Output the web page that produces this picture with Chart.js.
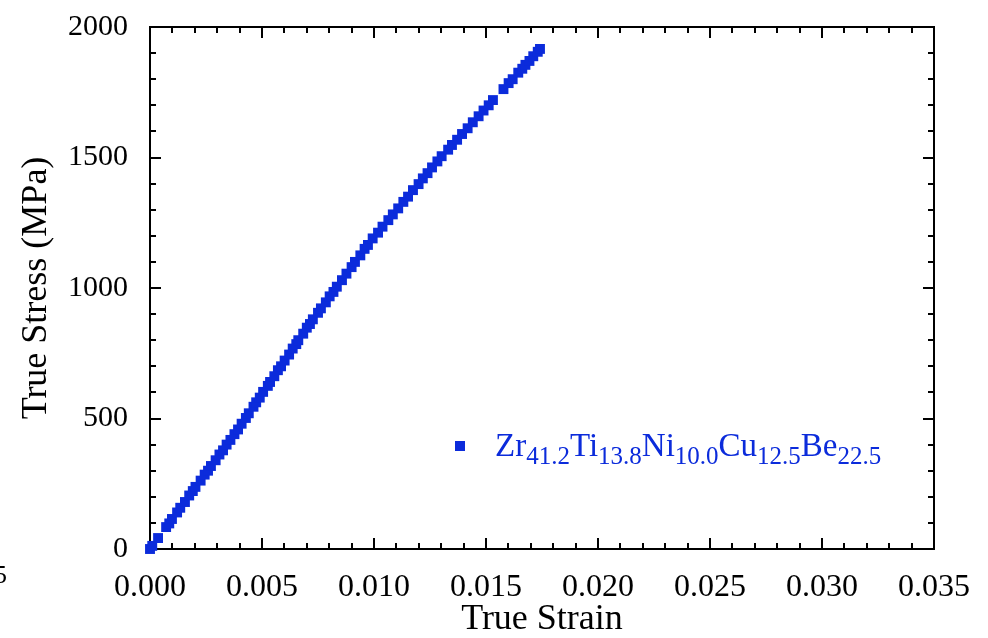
<!DOCTYPE html>
<html><head><meta charset="utf-8">
<script src="https://cdn.jsdelivr.net/npm/chart.js@4"></script>
<style>html,body{margin:0;padding:0;background:#fff}#wrap{width:988px;height:638px}</style>
</head><body><div id="wrap"><canvas id="c" width="988" height="638"></canvas></div>
<script>
// ---- data ----
const strain = [
  0, 0.00010, 0.00036, 0.00072, 0.00086, 0.00098, 0.00121, 0.00135, 0.00156, 0.00175, 0.00191, 0.00203, 0.00226, 0.00244, 0.00259, 0.00272, 0.00293, 0.00310, 0.00326, 0.00342, 0.00359, 0.00377,
  0.00393, 0.00409, 0.00428, 0.00441, 0.00462, 0.00474, 0.00490, 0.00505, 0.00526, 0.00536, 0.00555, 0.00571, 0.00585, 0.00601, 0.00621, 0.00637, 0.00653, 0.00662, 0.00684, 0.00700,
  0.00714, 0.00727, 0.00750, 0.00763, 0.00785, 0.00802, 0.00819, 0.00834, 0.00857, 0.00877, 0.00900, 0.00915, 0.00939, 0.00958, 0.00973,
  0.00994, 0.01018, 0.01038, 0.01064, 0.01084, 0.01108, 0.01131, 0.01152, 0.01174, 0.01199, 0.01218, 0.01239, 0.01259, 0.01283,
  0.01302, 0.01331, 0.01348, 0.01371, 0.01393, 0.01418, 0.01441, 0.01467, 0.01489, 0.01512, 0.01531, 0.01578, 0.01601, 0.01619, 0.01644, 0.01662, 0.01676, 0.01694, 0.01711, 0.01731, 0.01741
];
const stress = [
  0, 12, 42, 84, 98, 115, 140, 158, 180, 205, 222, 238, 262, 285, 300, 318, 340, 362, 378, 400, 418, 440,
  458, 480, 502, 520, 545, 562, 580, 602, 625, 640, 662, 685, 700, 722, 745, 768, 785, 800, 825, 848,
  862, 880, 905, 922, 945, 968, 985, 1005, 1030, 1055, 1080, 1100, 1125, 1150, 1165,
  1190, 1212, 1235, 1260, 1282, 1305, 1330, 1350, 1375, 1398, 1420, 1440, 1462, 1485,
  1505, 1530, 1548, 1568, 1590, 1612, 1635, 1658, 1680, 1700, 1720, 1762, 1785, 1800, 1825, 1840, 1855, 1870, 1888, 1905, 1916
];
const seriesLabelParts = [['Zr','41.2'],['Ti','13.8'],['Ni','10.0'],['Cu','12.5'],['Be','22.5']];
const xTickLabels = ['0.000','0.005','0.010','0.015','0.020','0.025','0.030','0.035'];
const yTickLabels = ['0','500','1000','1500','2000'];
const xTitle = 'True Strain';
const yTitle = 'True Stress (MPa)';
const strayText = '5';

const BLUE = '#0b2bdb';
const SERIF = '"Liberation Serif", "Times New Roman", serif';

const points = strain.map((s, i) => ({x: s, y: stress[i]}));

const framePlugin = {
  id: 'frame',
  beforeDatasetsDraw(chart) {
    const {ctx, chartArea: a, scales: {x, y}} = chart;
    ctx.save();
    ctx.strokeStyle = '#000';
    ctx.lineWidth = 2;
    ctx.strokeRect(a.left, a.top, a.right - a.left, a.bottom - a.top);
    ctx.beginPath();
    for (let k = 0; k <= 35; k++) {
      const v = k * 0.001;
      const px = Math.round(x.getPixelForValue(v));
      const len = (k % 5 === 0) ? 11 : 6;
      ctx.moveTo(px, a.bottom); ctx.lineTo(px, a.bottom - len);
      ctx.moveTo(px, a.top); ctx.lineTo(px, a.top + len);
    }
    for (let k = 0; k <= 20; k++) {
      const v = k * 100;
      const py = Math.round(y.getPixelForValue(v));
      const len = (k % 5 === 0) ? 11 : 6;
      ctx.moveTo(a.left, py); ctx.lineTo(a.left + len, py);
      ctx.moveTo(a.right, py); ctx.lineTo(a.right - len, py);
    }
    ctx.stroke();
    ctx.restore();
  },
  afterDraw(chart) {
    const {ctx} = chart;
    ctx.save();
    // legend
    ctx.fillStyle = BLUE;
    ctx.fillRect(455, 441, 10, 10);
    let cx = 495;
    const base = 456;
    ctx.textBaseline = 'alphabetic';
    ctx.textAlign = 'left';
    for (const [main, sub] of seriesLabelParts) {
      ctx.font = '33px ' + SERIF;
      ctx.fillText(main, cx, base);
      cx += ctx.measureText(main).width;
      ctx.font = '25px ' + SERIF;
      ctx.fillText(sub, cx, base + 8);
      cx += ctx.measureText(sub).width;
    }
    // stray clipped label at far left
    ctx.fillStyle = '#000';
    ctx.font = '26px ' + SERIF;
    ctx.textAlign = 'right';
    ctx.fillText(strayText, 7, 583);
    ctx.restore();
  }
};

new Chart(document.getElementById('c'), {
  type: 'scatter',
  data: {
    datasets: [{
      label: 'Zr41.2Ti13.8Ni10.0Cu12.5Be22.5',
      data: points,
      pointStyle: 'rect',
      pointRadius: 7,
      pointBorderWidth: 0,
      backgroundColor: BLUE,
      borderColor: BLUE,
      clip: false
    }]
  },
  options: {
    responsive: false,
    animation: false,
    devicePixelRatio: 1,
    layout: {padding: {top: 27, right: 54, left: 0, bottom: 0}},
    plugins: {legend: {display: false}, tooltip: {enabled: false}},
    scales: {
      x: {
        type: 'linear', min: 0, max: 0.035,
        afterFit(s) { s.height = 89; s.paddingLeft = 0; s.paddingRight = 0; },
        afterBuildTicks(s) { s.ticks = xTickLabels.map(t => ({value: parseFloat(t)})); },
        grid: {display: false, drawTicks: false},
        border: {display: false},
        ticks: {
          padding: 19, color: '#000', maxRotation: 0, autoSkip: false,
          font: {family: SERIF, size: 32},
          callback: (v, i) => xTickLabels[i]
        },
        title: {display: true, text: xTitle, color: '#000', font: {family: SERIF, size: 36, lineHeight: 1}, padding: {top: 0, bottom: 0}}
      },
      y: {
        type: 'linear', min: 0, max: 2000,
        afterFit(s) { s.width = 150; s.paddingTop = 0; s.paddingBottom = 0; },
        afterBuildTicks(s) { s.ticks = yTickLabels.map(t => ({value: parseFloat(t)})); },
        grid: {display: false, drawTicks: false},
        border: {display: false},
        ticks: {
          padding: 22, color: '#000', autoSkip: false,
          font: {family: SERIF, size: 30},
          callback: (v, i) => yTickLabels[i]
        },
        title: {display: true, text: yTitle, color: '#000', font: {family: SERIF, size: 36, lineHeight: 1}, padding: {top: 19, bottom: 0}}
      }
    }
  },
  plugins: [framePlugin]
});
</script>
</body></html>
